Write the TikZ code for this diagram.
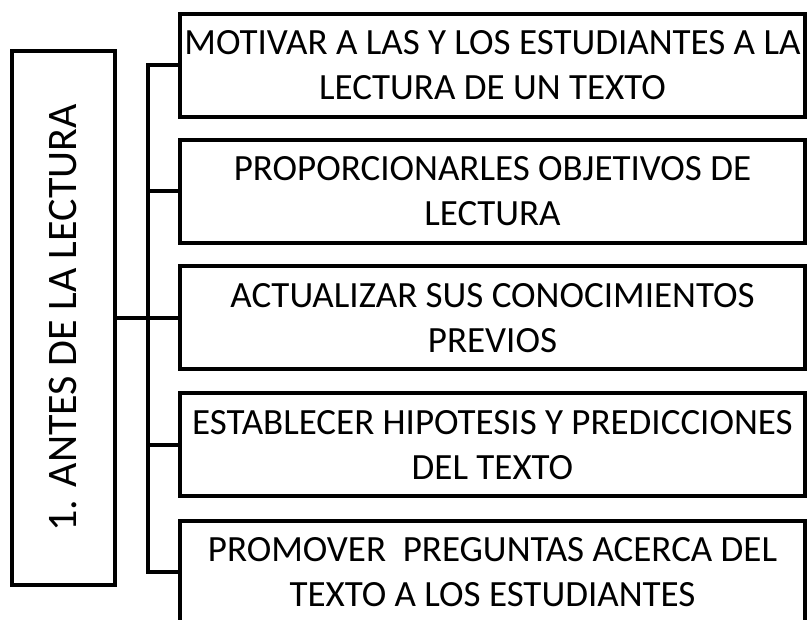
\documentclass[tikz,border=0pt]{standalone}
\usepackage{fontspec}
\setmainfont{Carlito}
\tikzset{
  caja/.style = {draw, line width=4pt, inner sep=0pt, align=center},
  fase/.style = {caja, minimum width=103pt, minimum height=534pt},
  paso/.style = {caja, minimum width=625pt, minimum height=103pt,
    font=\fontsize{37}{45}\selectfont},
  rama/.style = {line width=4pt}
}

\begin{document}
\begin{tikzpicture}[x=1pt,y=1pt]
  \useasboundingbox (0,0) rectangle (809,620);
  \node[fase] (fase) at (63.5,302) {};
  \node[rotate=90, font=\fontsize{42}{50}\selectfont] at (fase) {1. ANTES DE LA LECTURA};
  \node[paso] (p1) at (492.5,554.5) {MOTIVAR A LAS Y LOS ESTUDIANTES A LA\\LECTURA DE UN TEXTO};
  \node[paso] (p2) at (492.5,428.5) {PROPORCIONARLES OBJETIVOS DE\\LECTURA};
  \node[paso] (p3) at (492.5,302) {ACTUALIZAR SUS CONOCIMIENTOS\\PREVIOS};
  \node[paso] (p4) at (492.5,175) {ESTABLECER HIPOTESIS Y PREDICCIONES\\DEL TEXTO};
  \node[paso] (p5) at (492.5,47.5) {PROMOVER\ \ PREGUNTAS ACERCA DEL\\TEXTO A LOS ESTUDIANTES};
  \coordinate (tronco) at (148,302);
  \draw[rama] (fase.east) -- (tronco);
  \draw[rama] (p1.west) -- (p1.west -| tronco) -- (p5.west -| tronco) -- (p5.west);
  \foreach \p in {p2,p3,p4}
    \draw[rama] (\p.west -| tronco) -- (\p.west);
\end{tikzpicture}
\end{document}
